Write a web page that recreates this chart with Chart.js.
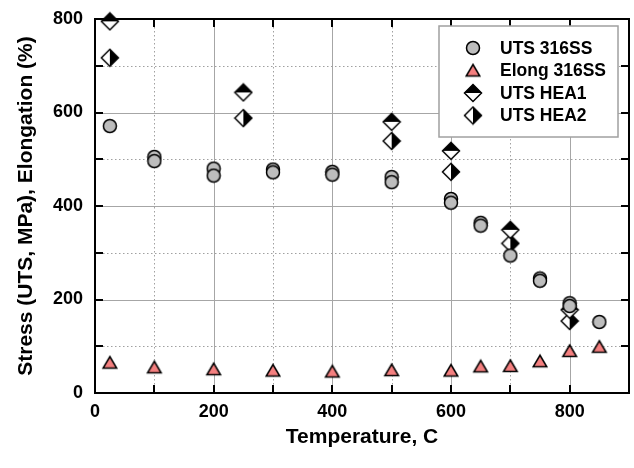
<!DOCTYPE html>
<html>
<head>
<meta charset="utf-8">
<script src="https://cdn.jsdelivr.net/npm/chart.js@4.4.0/dist/chart.umd.min.js"></script>
<style>
  html, body { margin: 0; padding: 0; background: #fff; }
</style>
</head>
<body>
<canvas id="chart" width="634" height="468"></canvas>
<script>
// UTS of 316SS (two tests at most temperatures)
const utsSSTemp = [25, 100, 100, 200, 200, 300, 300, 400, 400, 500, 500, 600, 600, 650, 650, 700, 750, 750, 800, 800, 850];
const utsSS = [571, 505, 496, 480, 465, 478, 472, 473, 467, 462, 451, 415, 407, 364, 358, 294, 245, 240, 192, 186, 152];

// elongation of 316SS
const elongTemp = [25, 100, 200, 300, 400, 500, 600, 650, 700, 750, 800, 850];
const elongSS = [65, 55, 51, 48, 46, 49, 48, 57, 58, 68, 90, 99];

// HEA alloys
const heaTemp = [25, 250, 500, 600, 700, 800];
const utsHEA1 = [795, 643, 580, 518, 349, 178];
const utsHEA2 = [717, 588, 539, 473, 320, 154];

const seriesLabels = ["UTS 316SS", "Elong 316SS", "UTS HEA1", "UTS HEA2"];

const FONT = '"Liberation Sans", Arial, sans-serif';

function makeMarker(w, h, draw) {
  const c = document.createElement("canvas");
  c.width = w;
  c.height = h;
  const g = c.getContext("2d");
  g.lineWidth = 1.5;
  g.strokeStyle = "#000";
  draw(g, w / 2, h / 2);
  return c;
}

const circleMark = makeMarker(16, 16, (g, cx, cy) => {
  g.beginPath();
  g.arc(cx, cy, 6.5, 0, Math.PI * 2);
  g.fillStyle = "#bdbdbd";
  g.fill();
  g.stroke();
});

const triangleMark = makeMarker(18, 16, (g, cx, cy) => {
  g.beginPath();
  g.moveTo(cx, cy - 6);
  g.lineTo(cx + 6.8, cy + 5.5);
  g.lineTo(cx - 6.8, cy + 5.5);
  g.closePath();
  g.fillStyle = "#f47f7f";
  g.fill();
  g.stroke();
});

function diamond(g, cx, cy, r) {
  g.beginPath();
  g.moveTo(cx, cy - r);
  g.lineTo(cx + r, cy);
  g.lineTo(cx, cy + r);
  g.lineTo(cx - r, cy);
  g.closePath();
}

// top half filled
const diamondTop = makeMarker(20, 20, (g, cx, cy) => {
  const r = 8.5;
  diamond(g, cx, cy, r);
  g.fillStyle = "#fff";
  g.fill();
  g.beginPath();
  g.moveTo(cx - r, cy);
  g.lineTo(cx, cy - r);
  g.lineTo(cx + r, cy);
  g.closePath();
  g.fillStyle = "#000";
  g.fill();
  diamond(g, cx, cy, r);
  g.stroke();
});

// right half filled
const diamondRight = makeMarker(20, 20, (g, cx, cy) => {
  const r = 8.5;
  diamond(g, cx, cy, r);
  g.fillStyle = "#fff";
  g.fill();
  g.beginPath();
  g.moveTo(cx, cy - r);
  g.lineTo(cx + r, cy);
  g.lineTo(cx, cy + r);
  g.closePath();
  g.fillStyle = "#000";
  g.fill();
  diamond(g, cx, cy, r);
  g.stroke();
});

function toPoints(xs, ys) {
  return xs.map((x, i) => ({ x: x, y: ys[i] }));
}

// grid, inward ticks and frame
const frameGrid = {
  id: "frameGrid",
  beforeDatasetsDraw(chart) {
    const { ctx, chartArea: a, scales } = chart;
    const xs = scales.x;
    const ys = scales.y;
    ctx.save();
    ctx.lineWidth = 1;

    xs.ticks.forEach((t) => {
      if (t.value <= xs.min || t.value >= xs.max) return;
      const px = Math.round(xs.getPixelForValue(t.value)) + 0.5;
      const major = t.value % 200 === 0;
      ctx.strokeStyle = major ? "#a6a6a6" : "#a0a0a0";
      ctx.setLineDash(major ? [] : [1.5, 2.5]);
      ctx.beginPath();
      ctx.moveTo(px, a.top);
      ctx.lineTo(px, a.bottom);
      ctx.stroke();
    });
    ys.ticks.forEach((t) => {
      if (t.value <= ys.min || t.value >= ys.max) return;
      const py = Math.round(ys.getPixelForValue(t.value)) + 0.5;
      const major = t.value % 200 === 0;
      ctx.strokeStyle = major ? "#a6a6a6" : "#a0a0a0";
      ctx.setLineDash(major ? [] : [1.5, 2.5]);
      ctx.beginPath();
      ctx.moveTo(a.left, py);
      ctx.lineTo(a.right, py);
      ctx.stroke();
    });

    ctx.setLineDash([]);
    ctx.strokeStyle = "#000";
    ctx.lineWidth = 2;
    const len = 8;
    xs.ticks.forEach((t) => {
      const px = Math.round(xs.getPixelForValue(t.value));
      ctx.beginPath();
      ctx.moveTo(px, a.top);
      ctx.lineTo(px, a.top + len);
      ctx.moveTo(px, a.bottom);
      ctx.lineTo(px, a.bottom - len);
      ctx.stroke();
    });
    ys.ticks.forEach((t) => {
      const py = Math.round(ys.getPixelForValue(t.value));
      ctx.beginPath();
      ctx.moveTo(a.left, py);
      ctx.lineTo(a.left + len, py);
      ctx.moveTo(a.right, py);
      ctx.lineTo(a.right - len, py);
      ctx.stroke();
    });
    ctx.strokeRect(a.left, a.top, a.right - a.left, a.bottom - a.top);
    ctx.restore();
  },
};

// legend inside the plot, top right
const legendBox = {
  id: "legendBox",
  afterDraw(chart) {
    const { ctx, chartArea: a } = chart;
    const boxW = 179;
    const boxH = 111;
    const left = a.right - 11 - boxW;
    const top = a.top + 7;
    ctx.save();
    ctx.fillStyle = "#fff";
    ctx.fillRect(left, top, boxW, boxH);
    ctx.strokeStyle = "#a0a0a0";
    ctx.lineWidth = 1.5;
    ctx.strokeRect(left, top, boxW, boxH);
    ctx.font = "bold 17.5px " + FONT;
    ctx.fillStyle = "#000";
    ctx.textBaseline = "middle";
    ctx.textAlign = "left";
    chart.data.datasets.forEach((ds, i) => {
      const y = top + 22 + i * 22.5;
      const img = ds.pointStyle;
      ctx.drawImage(img, left + 34 - img.width / 2, y - img.height / 2);
      ctx.fillText(ds.label, left + 61, y + 1);
    });
    ctx.restore();
  },
};

new Chart(document.getElementById("chart"), {
  type: "scatter",
  data: {
    datasets: [
      {
        label: seriesLabels[0],
        data: toPoints(utsSSTemp, utsSS),
        pointStyle: circleMark,
        clip: false,
      },
      {
        label: seriesLabels[1],
        data: toPoints(elongTemp, elongSS),
        pointStyle: triangleMark,
        clip: false,
      },
      {
        label: seriesLabels[2],
        data: toPoints(heaTemp, utsHEA1),
        pointStyle: diamondTop,
        clip: false,
      },
      {
        label: seriesLabels[3],
        data: toPoints(heaTemp, utsHEA2),
        pointStyle: diamondRight,
        clip: false,
      },
    ],
  },
  options: {
    responsive: false,
    animation: false,
    layout: { padding: { top: 19, right: 3, left: 0, bottom: 0 } },
    plugins: {
      legend: { display: false },
      tooltip: { enabled: false },
    },
    scales: {
      x: {
        type: "linear",
        min: 0,
        max: 900,
        grid: { display: false, drawTicks: false },
        border: { display: false },
        ticks: {
          stepSize: 100,
          padding: 8,
          color: "#000",
          maxRotation: 0,
          autoSkip: false,
          font: { family: FONT, size: 18, weight: "bold" },
          callback: (v) => (v % 200 === 0 && v < 900 ? v : ""),
        },
        title: {
          display: true,
          text: "Temperature, C",
          color: "#000",
          font: { family: FONT, size: 21, weight: "bold" },
          padding: { top: 0, bottom: 18 },
        },
        afterFit: (s) => {
          s.height = 75;
          s.paddingLeft = 0;
          s.paddingRight = 0;
          s.paddingTop = 0;
          s.paddingBottom = 0;
        },
      },
      y: {
        type: "linear",
        min: 0,
        max: 800,
        grid: { display: false, drawTicks: false },
        border: { display: false },
        ticks: {
          stepSize: 100,
          padding: 12,
          color: "#000",
          autoSkip: false,
          font: { family: FONT, size: 18, weight: "bold" },
          callback: (v) => (v % 200 === 0 ? v : ""),
        },
        title: {
          display: true,
          text: "Stress (UTS, MPa), Elongation (%)",
          color: "#000",
          font: { family: FONT, size: 21, weight: "bold" },
          padding: { top: 14, bottom: 0 },
        },
        afterFit: (s) => {
          s.width = 95;
          s.paddingLeft = 0;
          s.paddingRight = 0;
          s.paddingTop = 0;
          s.paddingBottom = 0;
        },
      },
    },
  },
  plugins: [frameGrid, legendBox],
});
</script>
</body>
</html>
